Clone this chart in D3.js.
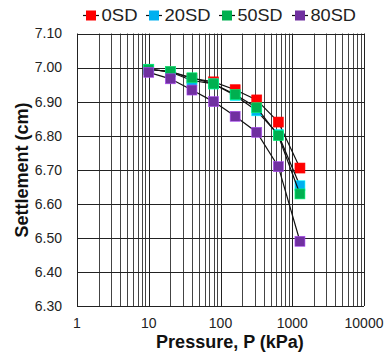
<!DOCTYPE html>
<html><head><meta charset="utf-8">
<script src="https://cdn.jsdelivr.net/npm/d3@7"></script>
<style>body{margin:0;background:#fff;}svg{display:block;font-family:"Liberation Sans",Arial,sans-serif;}</style>
</head><body>
<script>
const pressures = [10, 20, 40, 80, 160, 320, 640, 1280];
const seriesNames = ["0SD", "20SD", "50SD", "80SD"];
const seriesColors = ["#ff0000", "#00b0f0", "#00b050", "#7030a0"];
const s0SD  = [6.995, 6.988, 6.968, 6.958, 6.935, 6.905, 6.840, 6.705];
const s20SD = [6.995, 6.987, 6.962, 6.952, 6.918, 6.873, 6.803, 6.653];
const s50SD = [6.995, 6.988, 6.970, 6.952, 6.921, 6.882, 6.800, 6.629];
const s80SD = [6.986, 6.967, 6.934, 6.900, 6.857, 6.810, 6.709, 6.490];
const seriesValues = [s0SD, s20SD, s50SD, s80SD];
const xTicks = [1, 10, 100, 1000, 10000];
const yTicks = [6.30, 6.40, 6.50, 6.60, 6.70, 6.80, 6.90, 7.00, 7.10];

const W = 385, H = 355;
const m = {left: 77, right: 364, top: 33.5, bottom: 306};
const svg = d3.select("body").append("svg").attr("width", W).attr("height", H);
const x = d3.scaleLog().domain([1, 10000]).range([m.left, m.right]);
const y = d3.scaleLinear().domain([6.30, 7.10]).range([m.bottom, m.top]);

// minor vertical grid
const minor = [];
for (let d = 1; d < 10000; d *= 10) for (let k = 2; k <= 9; k++) minor.push(d * k);
const g = svg.append("g");
g.selectAll(".vmin").data(minor).enter().append("line")
  .attr("x1", d => Math.round(x(d)) + 0.5).attr("x2", d => Math.round(x(d)) + 0.5)
  .attr("y1", m.top).attr("y2", m.bottom).attr("stroke", "#444").attr("stroke-width", 1);
g.selectAll(".vmaj").data(xTicks).enter().append("line")
  .attr("x1", d => Math.round(x(d)) + 0.5).attr("x2", d => Math.round(x(d)) + 0.5)
  .attr("y1", m.top).attr("y2", m.bottom).attr("stroke", "#222").attr("stroke-width", 1);
g.selectAll(".h").data(yTicks).enter().append("line")
  .attr("x1", m.left).attr("x2", m.right)
  .attr("y1", d => Math.round(y(d)) + 0.5).attr("y2", d => Math.round(y(d)) + 0.5)
  .attr("stroke", "#222").attr("stroke-width", 1);

// axes labels
svg.append("g").selectAll("text").data(yTicks).enter().append("text")
  .attr("x", 62).attr("y", d => y(d)).attr("dy", "0.35em").attr("text-anchor", "end")
  .attr("font-size", 14).attr("fill", "#222").text(d => d.toFixed(2));
svg.append("g").selectAll("text").data(xTicks).enter().append("text")
  .attr("x", d => x(d)).attr("y", 323).attr("dy", "0.35em").attr("text-anchor", "middle")
  .attr("font-size", 14).attr("fill", "#222").text(d => d);

svg.append("text").attr("x", 230).attr("y", 342).attr("dy", "0.35em").attr("text-anchor", "middle")
  .attr("font-size", 18).attr("font-weight", "bold").attr("fill", "#111").text("Pressure, P (kPa)");
svg.append("text").attr("transform", "translate(22,170) rotate(-90)").attr("dy", "0.35em")
  .attr("text-anchor", "middle").attr("font-size", 18).attr("font-weight", "bold").attr("fill", "#111").text("Settlement (cm)");

// series
const line = d3.line().x((d, i) => x(pressures[i])).y(d => y(d));
seriesValues.forEach((vals, si) => {
  const sg = svg.append("g");
  sg.append("path").datum(vals).attr("d", line).attr("fill", "none").attr("stroke", "#111").attr("stroke-width", 1.2);
  sg.selectAll("rect").data(vals).enter().append("rect")
    .attr("x", (d, i) => x(pressures[i]) - 5).attr("y", d => y(d) - 5)
    .attr("width", 10).attr("height", 10).attr("fill", seriesColors[si])
    .attr("stroke", d3.color(seriesColors[si]).brighter(1.2)).attr("stroke-width", 0.6);
});

// legend
const legX = [91, 154, 227, 300];
const legW = [36, 46, 45, 45.5];
const lg = svg.append("g");
seriesNames.forEach((n, i) => {
  const cx = legX[i], cy = 15.5;
  lg.append("line").attr("x1", cx - 8).attr("x2", cx + 8).attr("y1", cy).attr("y2", cy)
    .attr("stroke", "#111").attr("stroke-width", 1.2);
  lg.append("rect").attr("x", cx - 5).attr("y", cy - 5).attr("width", 10).attr("height", 10)
    .attr("fill", seriesColors[i]);
  lg.append("text").attr("x", cx + 10.5).attr("y", cy).attr("dy", "0.36em")
    .attr("font-size", 16.5).attr("fill", "#222")
    .attr("textLength", legW[i]).attr("lengthAdjust", "spacingAndGlyphs").text(n);
});
</script>
</body></html>
